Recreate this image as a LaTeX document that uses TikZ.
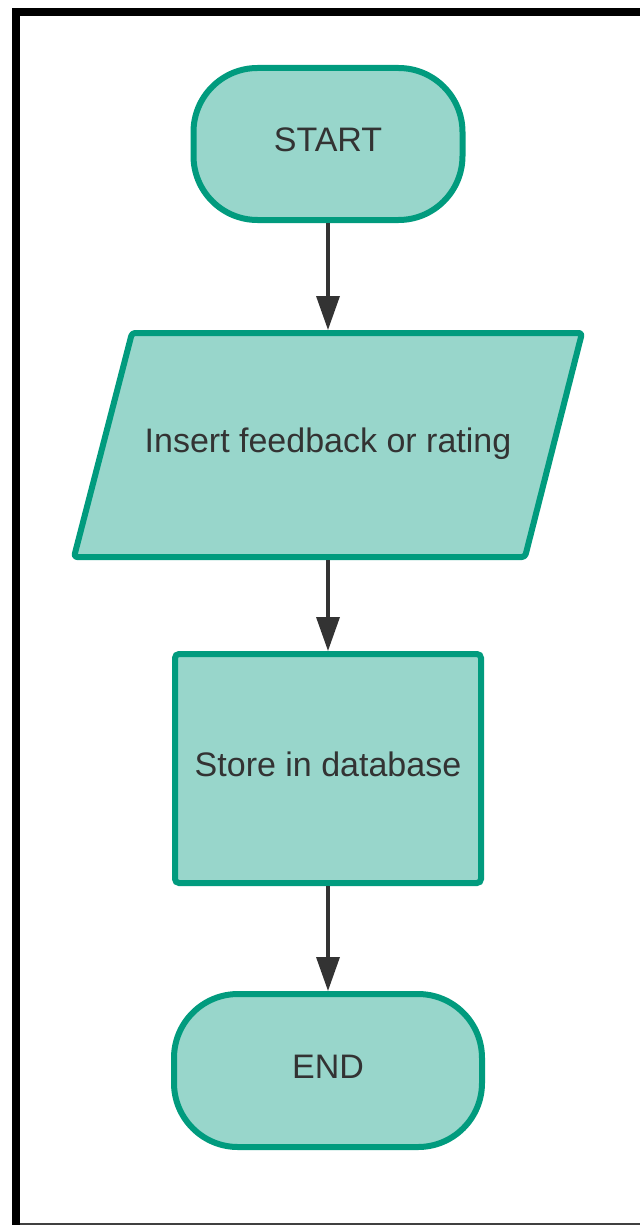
\documentclass[tikz,border=0pt]{standalone}
\usepackage{fontspec}
\setmainfont{Liberation Sans}
\usetikzlibrary{arrows.meta}
\definecolor{tealfill}{HTML}{98D6CB}
\definecolor{tealline}{HTML}{019B7E}
\definecolor{txtgrey}{HTML}{333333}
\definecolor{arrgrey}{HTML}{333333}
\begin{document}
\begin{tikzpicture}[x=1pt,y=1pt,
  shapebox/.style={draw=tealline, fill=tealfill, line width=6pt, text=txtgrey,
    font=\fontsize{34}{40}\selectfont, inner sep=0pt, text height=24pt, text depth=8.6pt},
  terminal/.style={shapebox, rounded corners=64pt},
  process/.style={shapebox, rounded corners=4pt},
  flowarrow/.style={draw=arrgrey, line width=3.5pt, -{Triangle[width=23pt,length=34pt]}},
  frameblack/.style={fill=black},
  frameline/.style={draw=black!75, line width=1.6pt}
]
\useasboundingbox (0,0) rectangle (640,-1225);
% frame
\fill[frameblack] (12,-8) rectangle (640,-16);
\fill[frameblack] (12,-8) rectangle (20,-1225);
\draw[frameline] (20,-1224.2) -- (640,-1224.2);

% nodes
\node[terminal, minimum width=269pt, minimum height=152pt] (start) at (328,-144) {START};

\draw[draw=tealline, fill=tealfill, line width=6pt, rounded corners=3pt, line join=round]
  (132,-333) -- (582,-333) -- (525,-557) -- (74,-557) -- cycle;
\node[text=txtgrey, font=\fontsize{34}{40}\selectfont, inner sep=0pt, outer sep=0pt,
  minimum height=230pt, minimum width=300pt, text depth=9pt] (inp) at (328,-445) {Insert feedback or rating};

\node[process, minimum width=306pt, minimum height=229pt] (store) at (328,-768.5) {Store in database};

\node[terminal, minimum width=308pt, minimum height=153pt] (finish) at (328,-1070.5) {END};

% connectors
\draw[flowarrow] (start.south) -- (inp.north);
\draw[flowarrow] (inp.south) -- (store.north);
\draw[flowarrow] (store.south) -- (finish.north);
\end{tikzpicture}
\end{document}
